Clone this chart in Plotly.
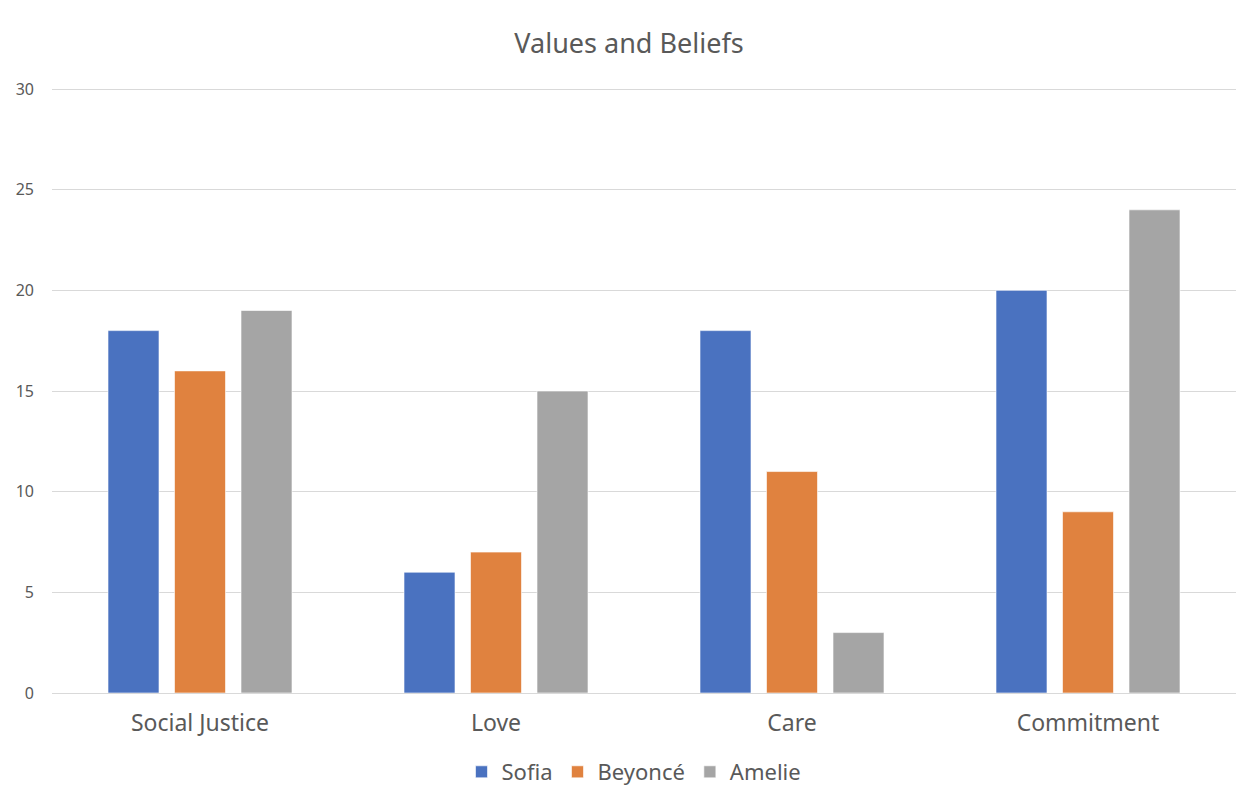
import plotly.graph_objects as go

categories = ["Social Justice", "Love", "Care", "Commitment"]
sofia = [18, 6, 18, 20]
beyonce = [16, 7, 11, 9]
amelie = [19, 15, 3, 24]
series_names = ["Sofia", "Beyoncé", "Amelie"]
colors = ["#4A72C0", "#E0823F", "#A5A5A5"]

fig = go.Figure()
for name, vals, col in zip(series_names, [sofia, beyonce, amelie], colors):
    fig.add_trace(go.Bar(
        x=categories, y=vals, name=name,
        marker=dict(color=col, line=dict(color="rgba(255,255,255,0.6)", width=1)),
    ))

font_family = "'Noto Sans', Lato, sans-serif"
fig.update_layout(
    width=1243, height=793,
    margin=dict(l=52, r=7, t=83, b=100),
    paper_bgcolor="white", plot_bgcolor="white",
    barmode="group", bargap=0.326, bargroupgap=0.233,
    title=dict(text="Values and Beliefs", x=629/1243, xanchor="center",
               y=1-44/793, yanchor="middle",
               font=dict(family=font_family, size=27, color="#595959")),
    font=dict(family=font_family, color="#595959"),
    legend=dict(orientation="h", x=634/1243, xanchor="center", xref="container",
                y=1-772/793, yanchor="middle", yref="container",
                font=dict(size=22, color="#595959"),
                traceorder="normal"),
    showlegend=True,
)
fig.update_yaxes(range=[0, 30.3], tickvals=[0, 5, 10, 15, 20, 25, 30],
                 showgrid=True, gridcolor="#D9D9D9",
                 gridwidth=1, zeroline=True, zerolinecolor="#D9D9D9",
                 zerolinewidth=1, showline=False, ticks="",
                 ticklabelstandoff=17,
                 tickfont=dict(size=16, color="#595959"))
fig.update_xaxes(showline=False, ticks="", ticklabelstandoff=14,
                 tickfont=dict(size=23, color="#595959"))

fig.write_html("out.html")
